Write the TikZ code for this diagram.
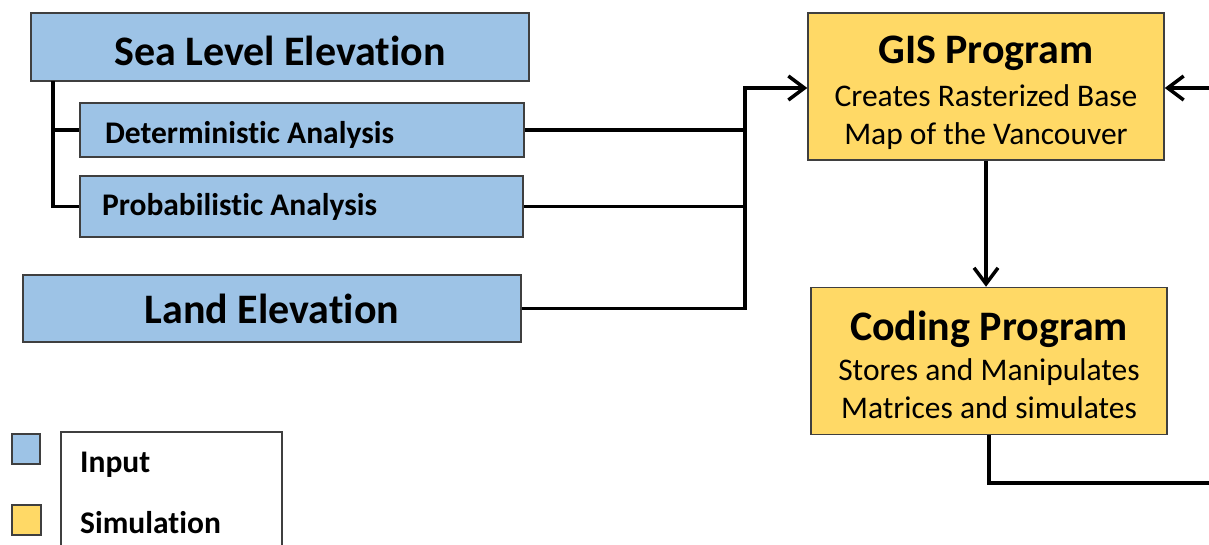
\documentclass[tikz,border=0pt]{standalone}
\usepackage{fontspec}
\setmainfont{Carlito}[Ligatures=NoCommon]
\usetikzlibrary{arrows.meta}
\definecolor{inblue}{HTML}{9DC3E6}
\definecolor{simyellow}{HTML}{FFD966}
\definecolor{boxline}{HTML}{3F3F3F}

\begin{document}
\begin{tikzpicture}[
  inbox/.style={draw=boxline, line width=1.5pt, fill=inblue, inner sep=0pt},
  simbox/.style={draw=boxline, line width=1.5pt, fill=simyellow, inner sep=0pt,
    minimum width=356pt, minimum height=147pt, align=center,
    font=\fontsize{31.5}{38}\selectfont},
  big/.style={font=\fontsize{42}{46}\selectfont\bfseries},
  mid/.style={font=\fontsize{31.5}{36}\selectfont\bfseries},
  link/.style={line width=3.5pt},
  feed/.style={link, -{Straight Barb[length=16pt,width=24pt]}}
]
  \useasboundingbox (0pt,0pt) rectangle (1209pt,-544pt);

  \node[inbox, big, minimum width=498pt, minimum height=68pt,
    text height=36pt, text depth=0pt] (sea) at (280pt,-47pt) {Sea Level Elevation};
  \node[inbox, mid, minimum width=444pt, minimum height=54pt,
    text width=394pt, align=flush left, text height=26pt, text depth=0pt]
    (det) at (302pt,-130pt) {Deterministic Analysis};
  \node[inbox, mid, minimum width=443pt, minimum height=61pt,
    text width=399pt, align=flush left] (prob) at (301.5pt,-206.5pt) {Probabilistic Analysis};
  \node[inbox, big, minimum width=498pt, minimum height=67pt]
    (land) at (272pt,-308.5pt) {Land Elevation};

  \node[simbox] (gis) at (986pt,-86.5pt)
    {{\fontsize{42}{46}\selectfont\bfseries\rule{0pt}{40pt}GIS Program}\\[5pt]
     Creates Rasterized Base\\ Map of the Vancouver};
  \node[simbox] (code) at (989pt,-361pt)
    {{\fontsize{42}{46}\selectfont\bfseries\rule{0pt}{38pt}Coding Program}\\[2pt]
     Stores and Manipulates\\ Matrices and simulates};

  \coordinate (trunk) at (53pt,-81pt);
  \draw[link] (trunk) |- (prob.west);
  \draw[link] (trunk |- det.west) -- (det.west);

  \coordinate (bus) at (745pt,-88pt);
  \draw[link] (det.east) -- (det.east -| bus);
  \draw[link] (prob.east) -- (prob.east -| bus);
  \draw[feed] (land.east) -| (bus) -- (bus -| gis.west);

  \coordinate (back) at (1209pt,-88pt);
  \draw[feed] (back) -- (back -| gis.east);
  \draw[feed] (gis.south) -- (gis.south |- code.north);
  \coordinate (out) at (1209pt,-483pt);
  \draw[link] (code.south) |- (out);

  \node[draw=boxline, line width=1.2pt, minimum width=221pt, minimum height=116pt,
    inner sep=0pt] (legend) at (171.5pt,-490pt) {};
  \node[inbox, line width=1.2pt, minimum width=28pt, minimum height=30pt]
    (inkey) at (26pt,-449pt) {};
  \node[inbox, fill=simyellow, line width=1.2pt, minimum width=29pt, minimum height=30pt]
    (simkey) at (26.5pt,-520pt) {};
  \node[mid, anchor=base west, inner sep=0pt] (intext) at (80pt,-472pt) {Input};
  \node[mid, anchor=base west, inner sep=0pt] (simtext) at (80pt,-533pt) {Simulation};
\end{tikzpicture}
\end{document}
